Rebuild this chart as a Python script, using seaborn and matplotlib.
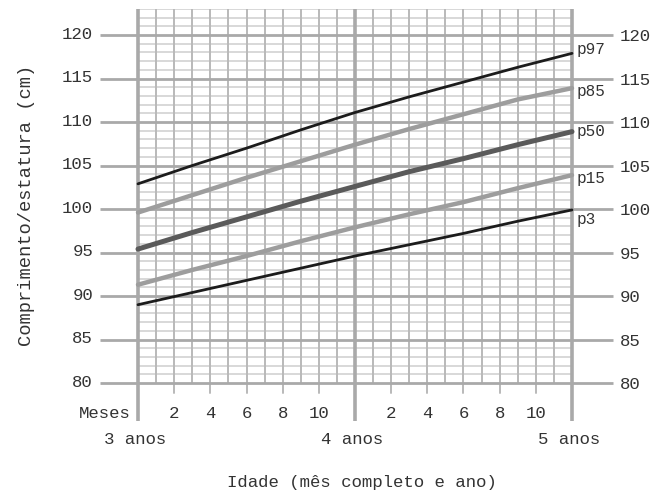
import numpy as np
import pandas as pd
import matplotlib
matplotlib.use("Agg")
import matplotlib.pyplot as plt
import seaborn as sns

# ---- data ----
months = [36, 39, 42, 45, 48, 51, 54, 57, 60]
p3 = [89.0, 90.4, 91.8, 93.2, 94.6, 95.9, 97.2, 98.6, 99.9]
p15 = [91.3, 93.0, 94.6, 96.3, 97.9, 99.4, 100.8, 102.4, 103.9]
p50 = [95.4, 97.3, 99.1, 100.9, 102.6, 104.3, 105.8, 107.4, 108.9]
p85 = [99.6, 101.6, 103.6, 105.5, 107.4, 109.2, 110.9, 112.6, 113.9]
p97 = [102.9, 105.0, 107.0, 109.1, 111.1, 112.9, 114.6, 116.3, 117.9]
series_names = ["p97", "p85", "p50", "p15", "p3"]
y_ticks = [80, 85, 90, 95, 100, 105, 110, 115, 120]
month_ticks = [2, 4, 6, 8, 10]
year_labels = ["3 anos", "4 anos", "5 anos"]
year_positions = [36, 48, 60]

df = pd.DataFrame({
    "mes": months * 5,
    "cm": p97 + p85 + p50 + p15 + p3,
    "pct": sum([[n] * len(months) for n in series_names], []),
})

sns.set_style("white")
plt.rcParams["font.family"] = ["Liberation Mono", "DejaVu Sans Mono"]
TXT = "#333333"

fig = plt.figure(figsize=(6.66, 4.93), dpi=100)
W, H = 666, 493
ax = fig.add_axes([138 / W, (H - 383) / H, (572 - 138) / W, (383 - 9) / H])
ax.set_xlim(36, 60)
ax.set_ylim(80, 123)
ax.axis("off")

px_m = (572 - 138) / 24.0   # px per month
px_cm = (383 - 9) / 43.0    # px per cm

# minor horizontal grid (every cm)
for c in range(81, 124):
    if c % 5 != 0:
        ax.plot([36, 60], [c, c], color="#d2d2d2", lw=1.2, zorder=1, solid_capstyle="butt")
# vertical month grid
for m in range(37, 60):
    if m != 48:
        ax.plot([m, m], [80, 123], color="#b9b9b9", lw=1.4, zorder=2, solid_capstyle="butt")
# major horizontal lines, extending outside
xl = 36 - (138 - 100) / px_m
xr = 60 + (613 - 572) / px_m
for c in y_ticks:
    ax.plot([xl, xr], [c, c], color="#a9a9a9", lw=2.0, zorder=3, clip_on=False, solid_capstyle="butt")
    ax.text(36 - (138 - 93) / px_m, c + 0.1, str(c), ha="right", va="center", fontsize=12.5, color=TXT)
    ax.text(60 + (620 - 572) / px_m, c - 0.2, str(c), ha="left", va="center", fontsize=12.5, color=TXT)
# year lines
ybot = 80 - (421 - 383) / px_cm
for m in year_positions:
    ax.plot([m, m], [ybot, 123], color="#a9a9a9", lw=2.6, zorder=3, clip_on=False, solid_capstyle="butt")
# even month ticks below axis
ytk = 80 - (393 - 383) / px_cm
ylab = 80 - (413 - 383) / px_cm
for base in (36, 48):
    for k in month_ticks:
        ax.plot([base + k, base + k], [ytk, 80], color="#b9b9b9", lw=1.4, zorder=2, clip_on=False)
        ax.text(base + k, ylab, str(k), ha="center", va="center", fontsize=12.5, color=TXT)
ax.text(36 - (138 - 131) / px_m, ylab, "Meses", ha="right", va="center", fontsize=12.5, color=TXT)
yyr = 80 - (440 - 383) / px_cm
for lab, m in zip(year_labels, year_positions):
    ax.text(m - 3 / px_m, yyr, lab, ha="center", va="center", fontsize=12.5, color=TXT)

# curves
palette = {"p97": "#1c1c1c", "p85": "#9d9d9d", "p50": "#5a5a5a", "p15": "#9d9d9d", "p3": "#1c1c1c"}
widths = {"p97": 2.0, "p85": 3.2, "p50": 3.6, "p15": 3.2, "p3": 2.0}
offsets = {"p97": 0.4, "p85": -0.4, "p50": 0.0, "p15": -0.4, "p3": -1.1}
for name in series_names:
    sub = df[df["pct"] == name]
    sns.lineplot(data=sub, x="mes", y="cm", color=palette[name], lw=widths[name],
                 ax=ax, zorder=5, legend=False, clip_on=False)
    end = sub["cm"].iloc[-1]
    ax.text(60 + 5 / px_m, end + offsets[name], name, ha="left", va="center", fontsize=11.5,
            color=TXT, zorder=6)
ax.set_xlim(36, 60)
ax.set_ylim(80, 123)
ax.axis("off")

fig.text(362 / W, 1 - 482 / H, "Idade (mês completo e ano)", ha="center", va="center",
         fontsize=12.5, color=TXT)
fig.text(27 / W, 1 - 205 / H, "Comprimento/estatura (cm)", ha="center", va="center",
         rotation=90, fontsize=13.5, color=TXT)

fig.savefig("out.png", dpi=100, facecolor="white")
